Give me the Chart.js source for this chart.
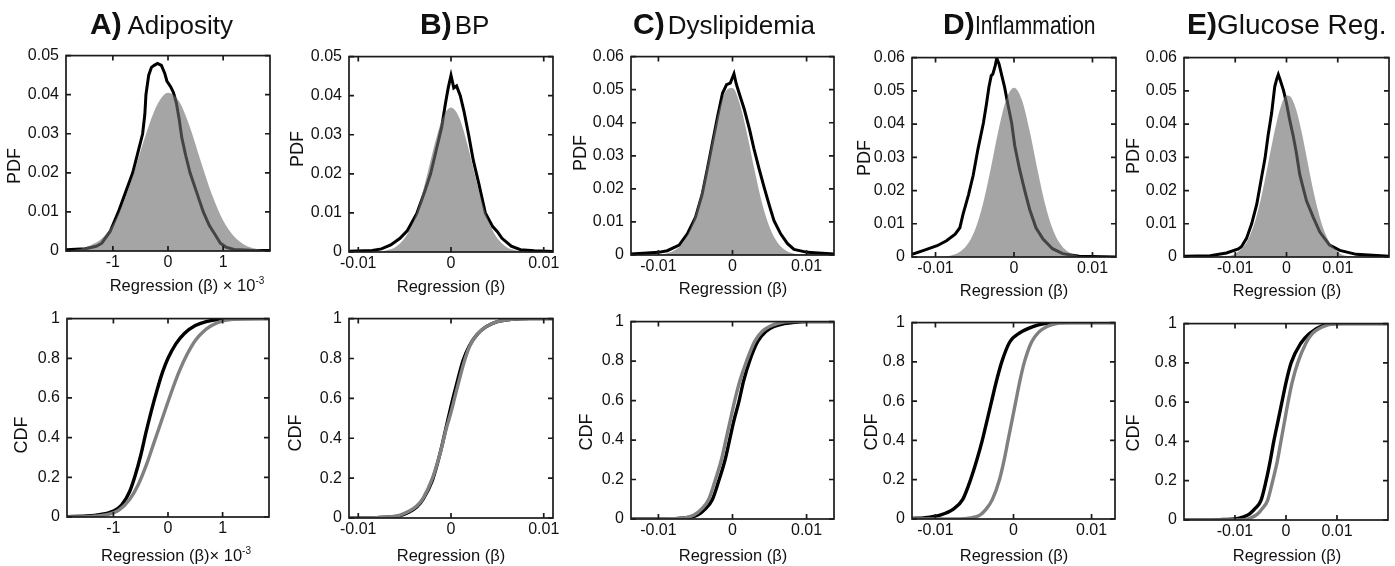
<!DOCTYPE html>
<html lang="en">
  <head>
    <meta charset="UTF-8" />
    <title>Regression PDF / CDF</title>
    <script src="https://cdn.jsdelivr.net/npm/chart.js@4.4.0/dist/chart.umd.min.js"></script>
    <style>
      body {
        margin: 0;
        width: 1395px;
        height: 566px;
        overflow: hidden;
        background: #fff;
        position: relative;
        font-family: "Liberation Sans", Arial, sans-serif;
        color: #111;
      }
      .panel { position: absolute; }
      .title { position: absolute; top: 9px; white-space: nowrap; line-height: 1; font-size: 26px; }
      .title b { font-size: 30px; }
      .narrow { display: inline-block; transform: scaleX(0.81); transform-origin: left center; }
      .ylab { position: absolute; font-size: 18px; white-space: nowrap; transform: translate(-50%, -50%) rotate(-90deg); }
      .xlab { position: absolute; font-size: 16.5px; white-space: nowrap; transform: translate(-50%, -50%); }
      .xlab sup { font-size: 10px; }
    </style>
  </head>
  <body>
    <script>
      // ---- tick values / labels ----
      const xTicksA = [-1, 0, 1];
      const xLabelsA = ["-1", "0", "1"];
      const xTicksBeta = [-0.01, 0, 0.01];
      const xLabelsBeta = ["-0.01", "0", "0.01"];
      const pdfTicks5 = [0, 0.01, 0.02, 0.03, 0.04, 0.05];
      const pdfLabels5 = ["0", "0.01", "0.02", "0.03", "0.04", "0.05"];
      const pdfTicks6 = [0, 0.01, 0.02, 0.03, 0.04, 0.05, 0.06];
      const pdfLabels6 = ["0", "0.01", "0.02", "0.03", "0.04", "0.05", "0.06"];
      const cdfTicks = [0, 0.2, 0.4, 0.6, 0.8, 1];
      const cdfLabels = ["0", "0.2", "0.4", "0.6", "0.8", "1"];

      // ---- A) Adiposity (x in units of 1e-3) ----
      const adiposityPdfFit = [[-1.85,0.0001],[-1.6,0.0005],[-1.4,0.0015],[-1.2,0.0032],[-1.0,0.0068],[-0.8,0.0128],[-0.6,0.021],[-0.4,0.0299],[-0.2,0.0373],[0,0.0405],[0.2,0.0383],[0.4,0.0316],[0.6,0.0227],[0.8,0.0143],[1.0,0.0078],[1.2,0.0037],[1.4,0.0015],[1.6,0.0006],[1.85,0.0001]];
      const adiposityPdfObs = [[-1.85,0.0003],[-1.5,0.0006],[-1.3,0.0012],[-1.2,0.002],[-1.05,0.005],[-0.9,0.01],[-0.77,0.015],[-0.64,0.02],[-0.55,0.025],[-0.46,0.03],[-0.42,0.035],[-0.4,0.04],[-0.35,0.045],[-0.3,0.047],[-0.25,0.0475],[-0.19,0.048],[-0.12,0.0475],[-0.06,0.0455],[-0.02,0.0435],[0.05,0.042],[0.1,0.0405],[0.15,0.038],[0.2,0.034],[0.25,0.029],[0.32,0.0245],[0.4,0.02],[0.52,0.015],[0.64,0.01],[0.75,0.0065],[0.85,0.0043],[0.95,0.002],[1.05,0.001],[1.2,0.0004],[1.5,0.0002],[1.85,0.0001]];
      const adiposityCdfObs = [[-1.85,0.002],[-1.5,0.005],[-1.25,0.012],[-1.0,0.03],[-0.85,0.06],[-0.7,0.13],[-0.6,0.21],[-0.5,0.31],[-0.4,0.43],[-0.3,0.54],[-0.2,0.64],[-0.1,0.73],[0,0.8],[0.15,0.875],[0.3,0.925],[0.5,0.965],[0.7,0.985],[0.9,0.995],[1.1,0.999],[1.85,1]];
      const adiposityCdfFit = [[-1.85,0],[-1.4,0.003],[-1.1,0.013],[-0.9,0.035],[-0.7,0.09],[-0.55,0.16],[-0.4,0.26],[-0.25,0.38],[-0.1,0.5],[0.05,0.62],[0.2,0.73],[0.35,0.82],[0.5,0.89],[0.65,0.935],[0.8,0.965],[1.0,0.988],[1.2,0.997],[1.4,1],[1.85,1]];

      // ---- B) BP ----
      const bpPdfFit = [[-0.011,0],[-0.008,0.0001],[-0.007,0.0004],[-0.006,0.0012],[-0.005,0.0035],[-0.0045,0.0055],[-0.004,0.0082],[-0.0035,0.0116],[-0.003,0.0158],[-0.0025,0.0205],[-0.002,0.0254],[-0.0015,0.0299],[-0.001,0.0337],[-0.0005,0.0361],[0,0.037],[0.0005,0.0361],[0.001,0.0337],[0.0015,0.0299],[0.002,0.0254],[0.0025,0.0205],[0.003,0.0158],[0.0035,0.0116],[0.004,0.0082],[0.0045,0.0055],[0.005,0.0035],[0.006,0.0012],[0.007,0.0004],[0.008,0.0001],[0.011,0]];
      const bpPdfObs = [[-0.011,0.0002],[-0.0085,0.0004],[-0.0075,0.0008],[-0.0065,0.0018],[-0.0055,0.0035],[-0.0047,0.0055],[-0.0037,0.0098],[-0.0029,0.015],[-0.0022,0.02],[-0.0015,0.027],[-0.001,0.032],[-0.0006,0.038],[-0.0003,0.042],[0,0.0452],[0.0003,0.042],[0.0006,0.0425],[0.001,0.04],[0.0014,0.036],[0.0019,0.03],[0.0024,0.0235],[0.003,0.0175],[0.0037,0.01],[0.0045,0.0065],[0.005,0.0052],[0.0055,0.0035],[0.0065,0.0015],[0.0075,0.0006],[0.009,0.0003],[0.011,0.0001]];
      const bpCdfObs = [[-0.011,0],[-0.008,0.002],[-0.0065,0.005],[-0.0055,0.012],[-0.0045,0.03],[-0.0037,0.055],[-0.003,0.095],[-0.002,0.19],[-0.0012,0.32],[-0.0005,0.46],[0,0.56],[0.0006,0.67],[0.0013,0.79],[0.002,0.865],[0.0028,0.92],[0.0038,0.96],[0.005,0.985],[0.0065,0.996],[0.0085,1],[0.011,1]];
      const bpCdfFit = [[-0.011,0],[-0.008,0.002],[-0.0065,0.006],[-0.0055,0.015],[-0.0045,0.035],[-0.0037,0.06],[-0.003,0.1],[-0.002,0.2],[-0.0012,0.32],[-0.0005,0.45],[0,0.53],[0.0006,0.64],[0.0014,0.78],[0.002,0.86],[0.0028,0.92],[0.0038,0.96],[0.005,0.985],[0.0065,0.996],[0.0085,1],[0.011,1]];

      // ---- C) Dyslipidemia ----
      const dysPdfFit = [[-0.0137,0],[-0.01,0.0001],[-0.009,0.0004],[-0.008,0.0012],[-0.007,0.0029],[-0.006,0.0064],[-0.005,0.0124],[-0.004,0.0212],[-0.003,0.0319],[-0.002,0.0423],[-0.001,0.0492],[0,0.0505],[0.001,0.0456],[0.002,0.0363],[0.003,0.0254],[0.004,0.0156],[0.005,0.0085],[0.006,0.004],[0.007,0.0017],[0.008,0.0006],[0.009,0.0002],[0.0137,0]];
      const dysPdfObs = [[-0.0137,0.0003],[-0.01,0.0008],[-0.0088,0.0013],[-0.0072,0.003],[-0.0061,0.0064],[-0.005,0.0114],[-0.0041,0.0183],[-0.0034,0.026],[-0.0027,0.034],[-0.002,0.042],[-0.00135,0.0489],[-0.0008,0.0515],[-0.0003,0.052],[0.0002,0.0548],[0.0005,0.0518],[0.0009,0.0489],[0.0016,0.044],[0.0023,0.038],[0.0029,0.0321],[0.0036,0.026],[0.0043,0.0202],[0.005,0.0148],[0.0056,0.0104],[0.0065,0.0064],[0.0074,0.0035],[0.0083,0.0017],[0.0101,0.0008],[0.0137,0.0003]];
      const dysCdfObs = [[-0.0137,0.0005],[-0.009,0.001],[-0.007,0.004],[-0.0047,0.02],[-0.0037,0.05],[-0.0027,0.1],[-0.0018,0.2],[-0.001,0.3],[-0.0004,0.4],[0.0002,0.5],[0.0009,0.6],[0.0015,0.7],[0.0023,0.8],[0.0034,0.9],[0.0045,0.95],[0.0056,0.975],[0.007,0.99],[0.0085,0.997],[0.0101,1],[0.0137,1]];
      const dysCdfFit = [[-0.0137,0],[-0.008,0.001],[-0.0065,0.005],[-0.0052,0.02],[-0.0042,0.05],[-0.0032,0.1],[-0.0023,0.2],[-0.0015,0.3],[-0.0009,0.4],[-0.0003,0.5],[0.0003,0.6],[0.001,0.7],[0.0019,0.8],[0.003,0.9],[0.004,0.95],[0.005,0.975],[0.0063,0.993],[0.0078,1],[0.0137,1]];

      // ---- D) Inflammation ----
      const inflPdfFit = [[-0.013,0],[-0.009,0.0001],[-0.008,0.00045],[-0.007,0.0014],[-0.006,0.0036],[-0.005,0.008],[-0.004,0.0156],[-0.003,0.0262],[-0.002,0.0379],[-0.001,0.0473],[0,0.0509],[0.001,0.0473],[0.002,0.0379],[0.003,0.0262],[0.004,0.0156],[0.005,0.008],[0.006,0.0036],[0.007,0.0014],[0.008,0.00045],[0.009,0.0001],[0.013,0]];
      const inflPdfObs = [[-0.013,0.0008],[-0.0115,0.002],[-0.0098,0.0034],[-0.0086,0.0049],[-0.0075,0.0069],[-0.0069,0.0088],[-0.0065,0.0128],[-0.0058,0.0187],[-0.0052,0.0246],[-0.0046,0.0324],[-0.0039,0.0403],[-0.0035,0.0462],[-0.0032,0.0511],[-0.0029,0.0546],[-0.0027,0.055],[-0.0024,0.0575],[-0.0022,0.0598],[-0.0019,0.058],[-0.0016,0.055],[-0.0012,0.0511],[-0.0008,0.0462],[-0.0003,0.0403],[0.0001,0.0334],[0.0007,0.0265],[0.0014,0.0197],[0.002,0.0143],[0.0028,0.0088],[0.0037,0.0054],[0.0049,0.0025],[0.0062,0.001],[0.0083,0.0002],[0.013,0]];
      const inflCdfObs = [[-0.013,0.003],[-0.0115,0.006],[-0.0094,0.02],[-0.0077,0.05],[-0.0065,0.1],[-0.0055,0.2],[-0.0047,0.3],[-0.004,0.4],[-0.0034,0.5],[-0.0028,0.6],[-0.0022,0.7],[-0.0015,0.8],[-0.0005,0.9],[0.0009,0.95],[0.0025,0.98],[0.004,0.995],[0.0055,1],[0.013,1]];
      const inflCdfFit = [[-0.013,0],[-0.007,0],[-0.0055,0.005],[-0.0043,0.02],[-0.0035,0.05],[-0.0027,0.1],[-0.0018,0.2],[-0.0012,0.3],[-0.0007,0.4],[-0.0002,0.5],[0.0003,0.6],[0.0008,0.7],[0.0014,0.8],[0.0023,0.9],[0.0032,0.95],[0.0043,0.98],[0.0055,0.995],[0.0075,1],[0.013,1]];

      // ---- E) Glucose Reg. ----
      const glucPdfFit = [[-0.02,0],[-0.012,0.0002],[-0.01,0.001],[-0.008,0.0039],[-0.007,0.007],[-0.006,0.0114],[-0.005,0.0175],[-0.004,0.0248],[-0.003,0.0327],[-0.002,0.0401],[-0.001,0.0458],[0,0.0486],[0.001,0.0478],[0.002,0.0438],[0.003,0.0373],[0.004,0.0295],[0.005,0.0217],[0.006,0.0149],[0.007,0.0094],[0.008,0.0056],[0.01,0.0016],[0.012,0.0003],[0.02,0]];
      const glucPdfObs = [[-0.02,0.0002],[-0.0149,0.0004],[-0.0117,0.0012],[-0.0094,0.0024],[-0.0088,0.0031],[-0.0078,0.0056],[-0.0068,0.01],[-0.0058,0.0159],[-0.0049,0.0237],[-0.0042,0.0296],[-0.0036,0.0365],[-0.0029,0.0433],[-0.0023,0.0512],[-0.0019,0.0536],[-0.0016,0.0549],[-0.0012,0.0531],[-0.0006,0.0502],[0,0.0463],[0.0006,0.0414],[0.0013,0.0365],[0.0019,0.0316],[0.0026,0.0247],[0.0039,0.0169],[0.0052,0.012],[0.0065,0.0075],[0.0084,0.0036],[0.0104,0.002],[0.0136,0.0008],[0.02,0.0002]];
      const glucCdfObs = [[-0.02,0],[-0.013,0.002],[-0.0101,0.005],[-0.0085,0.015],[-0.0072,0.03],[-0.006,0.06],[-0.0049,0.1],[-0.0039,0.2],[-0.0031,0.3],[-0.0024,0.4],[-0.0016,0.5],[-0.0008,0.6],[0,0.7],[0.001,0.8],[0.0029,0.9],[0.0046,0.95],[0.0072,0.99],[0.0098,1],[0.02,1]];
      const glucCdfFit = [[-0.02,0],[-0.0085,0],[-0.007,0.01],[-0.0056,0.03],[-0.0046,0.06],[-0.0036,0.1],[-0.0026,0.2],[-0.0017,0.3],[-0.001,0.4],[-0.0003,0.5],[0.0004,0.6],[0.0012,0.7],[0.0023,0.8],[0.0039,0.9],[0.0052,0.95],[0.0078,0.99],[0.0111,1],[0.02,1]];

      // plot frame positions (page pixels) for each axes box
      const pdfBoxes = [
        { l: 66, t: 51, r: 270, b: 251 },
        { l: 349, t: 52, r: 553, b: 252 },
        { l: 631, t: 52, r: 834, b: 255 },
        { l: 912, t: 53, r: 1116, b: 257 },
        { l: 1184, t: 53, r: 1389, b: 257 },
      ];
      const cdfBoxes = [
        { l: 67, t: 314, r: 269, b: 517 },
        { l: 349, t: 314, r: 553, b: 518 },
        { l: 631, t: 317, r: 834, b: 519 },
        { l: 912, t: 318, r: 1115, b: 519 },
        { l: 1184, t: 319, r: 1388, b: 520 },
      ];

      const pts = (arr) => arr.map(([x, y]) => ({ x, y }));

      function fitArea(arr) {
        return {
          data: pts(arr),
          fill: "origin",
          backgroundColor: "rgba(110,110,110,0.62)",
          borderWidth: 0,
          pointRadius: 0,
          cubicInterpolationMode: "monotone",
          order: 0,
        };
      }
      function obsLine(arr) {
        return {
          data: pts(arr),
          fill: false,
          borderColor: "#000",
          borderWidth: 3,
          pointRadius: 0,
          tension: 0,
          order: 1,
        };
      }
      function cdfLine(arr, color, order) {
        return {
          data: pts(arr),
          fill: false,
          borderColor: color,
          borderWidth: 3.4,
          pointRadius: 0,
          cubicInterpolationMode: "monotone",
          order: order,
        };
      }

      // box around the axes with inward tick marks on all four sides
      const framePlugin = {
        id: "frame",
        afterDatasetsDraw(chart) {
          const { ctx, chartArea: a, scales } = chart;
          ctx.save();
          ctx.strokeStyle = "#1a1a1a";
          ctx.lineWidth = 1.7;
          ctx.strokeRect(a.left, a.top, a.right - a.left, a.bottom - a.top);
          ctx.beginPath();
          scales.x.ticks.forEach((t) => {
            const px = scales.x.getPixelForValue(t.value);
            ctx.moveTo(px, a.bottom); ctx.lineTo(px, a.bottom - 5);
            ctx.moveTo(px, a.top); ctx.lineTo(px, a.top + 5);
          });
          scales.y.ticks.forEach((t) => {
            const py = scales.y.getPixelForValue(t.value);
            ctx.moveTo(a.left, py); ctx.lineTo(a.left + 5, py);
            ctx.moveTo(a.right, py); ctx.lineTo(a.right - 5, py);
          });
          ctx.stroke();
          ctx.restore();
        },
      };

      function drawPanel(box, xMin, xMax, xTicks, xLabels, yMax, yTicks, yLabels, datasets) {
        const padL = 60, padT = 12, padR = 8, padB = 30;
        const div = document.createElement("div");
        div.className = "panel";
        div.style.left = box.l - padL + "px";
        div.style.top = box.t - padT + "px";
        div.style.width = box.r - box.l + padL + padR + "px";
        div.style.height = box.b - box.t + padT + padB + "px";
        const canvas = document.createElement("canvas");
        div.appendChild(canvas);
        document.body.appendChild(div);

        const tickFont = { family: "'Liberation Sans', Arial, sans-serif", size: 16 };
        new Chart(canvas, {
          type: "line",
          data: { datasets: datasets },
          options: {
            responsive: true,
            maintainAspectRatio: false,
            animation: false,
            events: [],
            layout: { padding: { top: padT, right: padR, left: 0, bottom: 0 } },
            plugins: { legend: { display: false }, tooltip: { enabled: false } },
            scales: {
              x: {
                type: "linear",
                min: xMin,
                max: xMax,
                afterBuildTicks: (s) => { s.ticks = xTicks.map((v) => ({ value: v })); },
                afterFit: (s) => { s.height = padB; s.paddingLeft = 0; s.paddingRight = 0; },
                ticks: {
                  callback: (v, i) => xLabels[i],
                  font: tickFont,
                  color: "#111",
                  padding: 2,
                  maxRotation: 0,
                  autoSkip: false,
                },
                grid: { display: false, drawTicks: false },
                border: { display: false },
              },
              y: {
                min: 0,
                max: yMax,
                afterBuildTicks: (s) => { s.ticks = yTicks.map((v) => ({ value: v })); },
                afterFit: (s) => { s.width = padL; },
                ticks: {
                  callback: (v, i) => yLabels[i],
                  font: tickFont,
                  color: "#111",
                  padding: 7,
                  autoSkip: false,
                },
                grid: { display: false, drawTicks: false },
                border: { display: false },
              },
            },
          },
          plugins: [framePlugin],
        });
      }

      function addText(cls, html, x, y) {
        const el = document.createElement("div");
        el.className = cls;
        el.innerHTML = html;
        el.style.left = x + "px";
        el.style.top = y + "px";
        document.body.appendChild(el);
      }

      // ---- charts ----
      drawPanel(pdfBoxes[0], -1.85, 1.85, xTicksA, xLabelsA, 0.05, pdfTicks5, pdfLabels5, [fitArea(adiposityPdfFit), obsLine(adiposityPdfObs)]);
      drawPanel(pdfBoxes[1], -0.011, 0.011, xTicksBeta, xLabelsBeta, 0.05, pdfTicks5, pdfLabels5, [fitArea(bpPdfFit), obsLine(bpPdfObs)]);
      drawPanel(pdfBoxes[2], -0.0137, 0.0137, xTicksBeta, xLabelsBeta, 0.06, pdfTicks6, pdfLabels6, [fitArea(dysPdfFit), obsLine(dysPdfObs)]);
      drawPanel(pdfBoxes[3], -0.013, 0.013, xTicksBeta, xLabelsBeta, 0.06, pdfTicks6, pdfLabels6, [fitArea(inflPdfFit), obsLine(inflPdfObs)]);
      drawPanel(pdfBoxes[4], -0.02, 0.02, xTicksBeta, xLabelsBeta, 0.06, pdfTicks6, pdfLabels6, [fitArea(glucPdfFit), obsLine(glucPdfObs)]);

      drawPanel(cdfBoxes[0], -1.85, 1.85, xTicksA, xLabelsA, 1, cdfTicks, cdfLabels, [cdfLine(adiposityCdfFit, "#808080", 0), cdfLine(adiposityCdfObs, "#000", 1)]);
      drawPanel(cdfBoxes[1], -0.011, 0.011, xTicksBeta, xLabelsBeta, 1, cdfTicks, cdfLabels, [cdfLine(bpCdfFit, "#808080", 0), cdfLine(bpCdfObs, "#000", 1)]);
      drawPanel(cdfBoxes[2], -0.0137, 0.0137, xTicksBeta, xLabelsBeta, 1, cdfTicks, cdfLabels, [cdfLine(dysCdfFit, "#808080", 0), cdfLine(dysCdfObs, "#000", 1)]);
      drawPanel(cdfBoxes[3], -0.013, 0.013, xTicksBeta, xLabelsBeta, 1, cdfTicks, cdfLabels, [cdfLine(inflCdfFit, "#808080", 0), cdfLine(inflCdfObs, "#000", 1)]);
      drawPanel(cdfBoxes[4], -0.02, 0.02, xTicksBeta, xLabelsBeta, 1, cdfTicks, cdfLabels, [cdfLine(glucCdfFit, "#808080", 0), cdfLine(glucCdfObs, "#000", 1)]);

      // ---- titles and axis labels ----
      addText("title", "<b>A)</b> Adiposity", 90, 9);
      addText("title", '<b>B)</b><span style="margin-left:3px">BP</span>', 420, 9);
      addText("title", '<b>C)</b><span style="margin-left:3px">Dyslipidemia</span>', 633, 9);
      addText("title", '<b>D)</b><span class="narrow">Inflammation</span>', 943, 9);
      addText("title", '<b>E)</b><span style="font-size:28px">Glucose Reg.</span>', 1187, 9);

      const pdfYLab = [[14, 166], [297, 149], [580, 153], [864, 158], [1133, 156]];
      const cdfYLab = [[21, 435], [295, 433], [586, 432], [871, 432], [1133, 433]];
      pdfYLab.forEach(([x, y]) => addText("ylab", "PDF", x, y));
      cdfYLab.forEach(([x, y]) => addText("ylab", "CDF", x, y));

      addText("xlab", "Regression (&beta;) &times; 10<sup>-3</sup>", 187, 285);
      addText("xlab", "Regression (&beta;)", 451, 286);
      addText("xlab", "Regression (&beta;)", 733, 288);
      addText("xlab", "Regression (&beta;)", 1014, 290);
      addText("xlab", "Regression (&beta;)", 1287, 290);
      addText("xlab", "Regression (&beta;)&times; 10<sup>-3</sup>", 176, 555);
      addText("xlab", "Regression (&beta;)", 451, 555);
      addText("xlab", "Regression (&beta;)", 733, 555);
      addText("xlab", "Regression (&beta;)", 1014, 555);
      addText("xlab", "Regression (&beta;)", 1287, 555);
    </script>
  </body>
</html>
